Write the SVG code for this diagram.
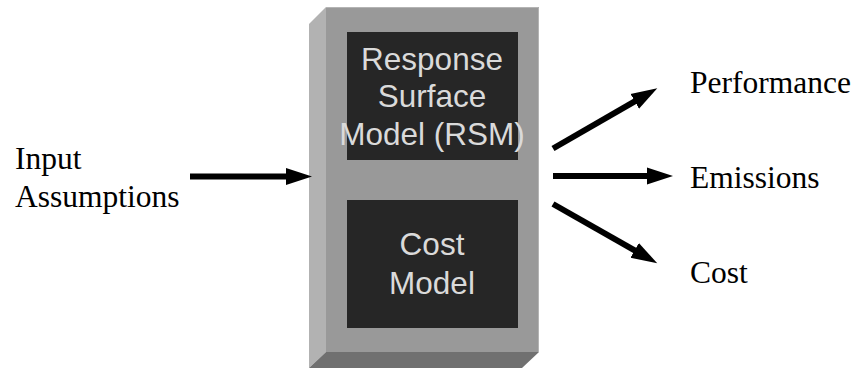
<svg xmlns="http://www.w3.org/2000/svg" width="860" height="369" viewBox="0 0 860 369">
<style>
.lbl{font-family:"Liberation Serif","Times New Roman",serif;font-size:31.5px;fill:#000}
.inner{font-family:"Liberation Sans",Arial,sans-serif;font-size:31.5px;fill:#dadada;text-anchor:middle}
.dark{fill:#262626}
.conn{stroke:#000;stroke-width:6;fill:none}
</style>
<defs>
<marker id="ah" markerUnits="userSpaceOnUse" markerWidth="30" markerHeight="20" viewBox="0 -10 30 20" refX="2" refY="0" orient="auto">
<path d="M0,-8.5 L26,0 L0,8.5 z" fill="#000"/>
</marker>
</defs>
<rect width="860" height="369" fill="#fff"/>
<g id="model-block">
<polygon points="309,24 326,7 326,352 309,368" fill="#b2b2b2"/>
<polygon points="326,352 539,352 522,368 309,368" fill="#707070"/>
<rect x="326" y="7" width="213" height="345" fill="#999999"/>
<polyline points="326,7.5 538.5,7.5 538.5,352" fill="none" stroke="#b4b4b4" stroke-width="1"/>
</g>
<g id="rsm">
<rect class="dark" x="347" y="32" width="171" height="128"/>
<text class="inner" x="432" y="70">Response</text>
<text class="inner" x="432" y="107">Surface</text>
<text class="inner" x="432" y="145">Model (RSM)</text>
</g>
<g id="cost-model">
<rect class="dark" x="347" y="200" width="171" height="128"/>
<text class="inner" x="432" y="255">Cost</text>
<text class="inner" x="432" y="294">Model</text>
</g>
<g id="input">
<text class="lbl" x="15" y="169">Input</text>
<text class="lbl" x="15" y="207">Assumptions</text>
</g>
<g id="performance"><text class="lbl" x="690" y="93">Performance</text></g>
<g id="emissions"><text class="lbl" x="690" y="188">Emissions</text></g>
<g id="cost"><text class="lbl" x="690" y="283">Cost</text></g>
<g id="connectors">
<line class="conn" x1="190" y1="176.5" x2="288" y2="176.5" marker-end="url(#ah)"/>
<line class="conn" x1="553" y1="148.5" x2="636.5" y2="100.3" marker-end="url(#ah)"/>
<line class="conn" x1="553" y1="176" x2="649" y2="176" marker-end="url(#ah)"/>
<line class="conn" x1="553" y1="204" x2="636.4" y2="251.4" marker-end="url(#ah)"/>
</g>
</svg>
